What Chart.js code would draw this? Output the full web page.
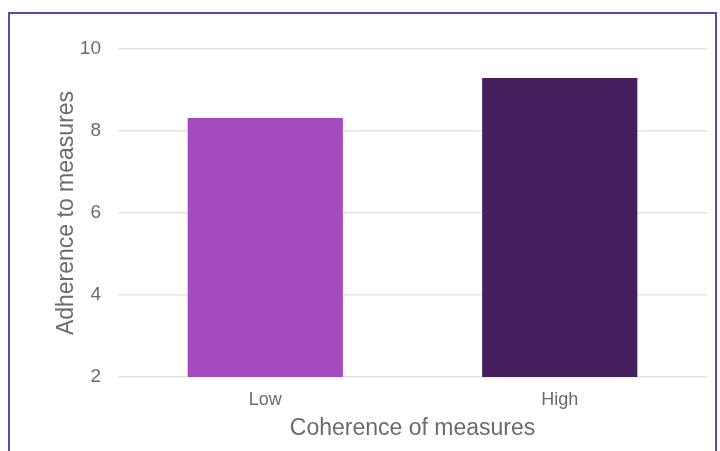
<!DOCTYPE html>
<html>
<head>
<meta charset="utf-8">
<script src="https://cdn.jsdelivr.net/npm/chart.js@4.4.0/dist/chart.umd.min.js"></script>
<style>
  html, body { margin: 0; padding: 0; background: #fff; overflow: hidden; }
  #frame {
    position: absolute; left: 8px; top: 12px;
    width: 705px; height: 460px;
    border: 2px solid #4b50ad;
  }
  #myChart { position: absolute; left: 0; top: 0; }
</style>
</head>
<body>
<div id="frame"></div>
<canvas id="myChart" width="720" height="451"></canvas>
<script>
var categories = ["Low", "High"];
var adherence = [8.32, 9.29];
var barColors = ["#a64ac0", "#451e5e"];
var yTicks = [2, 4, 6, 8, 10];

var textColor = "#6b6b6b";
var fontName = "'Liberation Sans', Arial, sans-serif";

var ctx = document.getElementById("myChart");
var myBarChart = new Chart(ctx, {
  type: 'bar',
  data: {
    labels: categories,
    datasets: [{
      label: "Adherence to measures",
      data: adherence,
      backgroundColor: barColors,
      borderWidth: 0,
      barPercentage: 0.527,
      categoryPercentage: 1.0
    }]
  },
  options: {
    responsive: false,
    animation: false,
    layout: { padding: { left: 49, right: 13, top: 49, bottom: 5 } },
    plugins: {
      legend: { display: false },
      tooltip: { enabled: false }
    },
    scales: {
      x: {
        afterFit: function(axis) {
          axis.height = 69;
        },
        grid: { display: false, drawTicks: false },
        border: { display: false },
        ticks: { color: textColor, font: { family: fontName, size: 18 }, padding: 12 },
        title: {
          display: true,
          text: "Coherence of measures",
          color: textColor,
          font: { family: fontName, size: 23 },
          padding: { top: 2, bottom: 4 }
        }
      },
      y: {
        min: 2,
        max: 10,
        afterBuildTicks: function(axis) {
          axis.ticks = yTicks.map(function(v) { return { value: v }; });
        },
        afterFit: function(axis) {
          axis.width = 69;
        },
        grid: { color: "#e3e3e3", lineWidth: 1.5, drawTicks: false },
        border: { display: false },
        ticks: { color: textColor, font: { family: fontName, size: 19 }, padding: 17 },
        title: {
          display: true,
          text: "Adherence to measures",
          color: textColor,
          font: { family: fontName, size: 23 },
          padding: { top: 4, bottom: 4 }
        }
      }
    }
  }
});
</script>
</body>
</html>
